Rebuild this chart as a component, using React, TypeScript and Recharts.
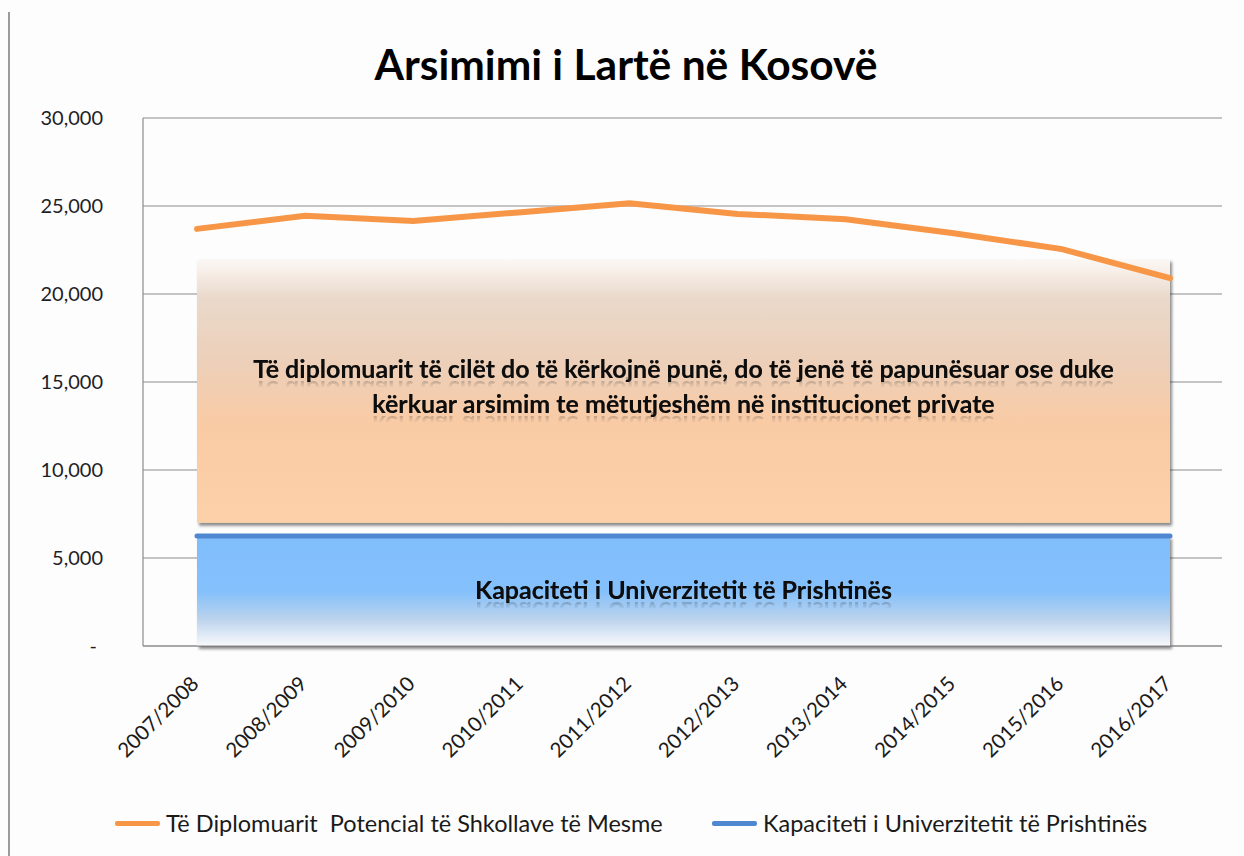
import React from 'react'
import { ComposedChart, Line, XAxis, YAxis, CartesianGrid, ReferenceArea } from 'recharts'

const years = [
  '2007/2008', '2008/2009', '2009/2010', '2010/2011', '2011/2012',
  '2012/2013', '2013/2014', '2014/2015', '2015/2016', '2016/2017',
]
// graduates from secondary schools (orange) and capacity of Univ. of Prishtina (blue)
const diplomuarit = [23700, 24450, 24150, 24650, 25150, 24550, 24250, 23450, 22550, 20900]
const kapaciteti = [6250, 6250, 6250, 6250, 6250, 6250, 6250, 6250, 6250, 6250]
const yTicks = [0, 5000, 10000, 15000, 20000, 25000, 30000]
// band of graduates left without a place (orange box)
const brezi = [7000, 22000]

const titulli = 'Arsimimi i Lartë në Kosovë'
const tekstiBrezit = [
  'Të diplomuarit të cilët do të kërkojnë punë, do të jenë të papunësuar ose duke',
  'kërkuar arsimim te mëtutjeshëm në institucionet private',
]
const tekstiKapacitetit = ['Kapaciteti i Univerzitetit të Prishtinës']
const emrat = ['Të Diplomuarit  Potencial të Shkollave të Mesme', 'Kapaciteti i Univerzitetit të Prishtinës']
const ngjyrat = ['#f79646', '#5087d1']

const data = years.map((year, i) => ({
  year,
  diplomuarit: diplomuarit[i],
  kapaciteti: kapaciteti[i],
}))

const FONT = 'Lato, "Open Sans", sans-serif'

const fmt = (v: number) => (v === 0 ? '-' : v.toLocaleString('en-US'))

const YTick = (props: any) => {
  const { x, y, payload } = props
  return (
    <text x={x} y={y} dx={payload.value === 0 ? -6 : 0} dy={7} textAnchor="end"
      fontFamily={FONT} fontSize={20} fill="#1e1e28">
      {fmt(payload.value)}
    </text>
  )
}

const YearTick = (props: any) => {
  const { x, y, payload } = props
  const ax = x + 3
  const ay = y + 37
  return (
    <text x={ax} y={ay} transform={`rotate(-45 ${ax} ${ay})`} textAnchor="end"
      fontFamily={FONT} fontSize={20.5} fill="#1a1a1a">
      {payload.value}
    </text>
  )
}

// bold caption with a faint mirrored copy under it
const Caption = ({ viewBox, lines, top, gap, id }: any) => {
  const { x, y, width, height } = viewBox
  const cx = x + width / 2
  return (
    <g>
      {lines.map((t: string, i: number) => {
        const by = y + height * top + i * gap
        const tid = `${id}-${i}`
        return (
          <g key={i}>
            <g fill="#111">
              <text id={tid} x={cx} y={by} textAnchor="middle" fontFamily={FONT} fontWeight={700}
                fontSize={25} filter="url(#soft)">
                {t}
              </text>
            </g>
            <use href={`#${tid}`} transform={`translate(0 ${2 * by + 3}) scale(1 -1)`} fill="url(#reflex)" />
          </g>
        )
      })}
    </g>
  )
}

const boxShape = (fill: string) => (p: any) => (
  <rect x={p.x} y={p.y} width={p.width} height={p.height} fill={fill} filter="url(#boxShadow)" />
)

export default function App() {
  return (
    <div style={{ position: 'absolute', left: 0, top: 0, width: 1244, height: 856, background: '#fdfdfd', overflow: 'hidden' }}>
      <div style={{ position: 'absolute', left: 8, top: 12, width: 2, height: 844, background: '#9b9b9b' }} />
      <div style={{
        position: 'absolute', left: 0, width: 1244, top: 39, textAlign: 'center',
        fontFamily: FONT, fontWeight: 700, fontSize: 42.5, color: '#000', lineHeight: '50px',
        paddingLeft: 4,
      }}>
        {titulli}
      </div>
      <ComposedChart width={1244} height={856} data={data}
        margin={{ top: 118, right: 22, left: 0, bottom: 0 }}>
        <defs>
          <linearGradient id="orangeFill" x1="0" y1="0" x2="0" y2="1">
            <stop offset="0" stopColor="#fcf8f5" />
            <stop offset="0.15" stopColor="#ead9cb" />
            <stop offset="0.4" stopColor="#edcfb8" />
            <stop offset="0.62" stopColor="#f9cba5" />
            <stop offset="1" stopColor="#fcd0a8" />
          </linearGradient>
          <linearGradient id="blueFill" x1="0" y1="0" x2="0" y2="1">
            <stop offset="0" stopColor="#80bdfb" />
            <stop offset="0.5" stopColor="#83c0fc" />
            <stop offset="0.75" stopColor="#bad2ec" />
            <stop offset="1" stopColor="#f8f9fc" />
          </linearGradient>
          <linearGradient id="reflex" x1="0" y1="0" x2="0" y2="1">
            <stop offset="0" stopColor="#333" stopOpacity="0" />
            <stop offset="0.6" stopColor="#333" stopOpacity="0" />
            <stop offset="0.88" stopColor="#333" stopOpacity="0.22" />
            <stop offset="1" stopColor="#333" stopOpacity="0.22" />
          </linearGradient>
          <filter id="boxShadow" x="-5%" y="-5%" width="110%" height="120%">
            <feDropShadow dx="2" dy="3" stdDeviation="1.5" floodColor="#000" floodOpacity="0.45" />
          </filter>
          <filter id="soft" x="-5%" y="-20%" width="110%" height="140%">
            <feDropShadow dx="0" dy="0" stdDeviation="0.6" floodColor="#000" floodOpacity="0.5" />
          </filter>
        </defs>
        <CartesianGrid vertical={false} stroke="#8c8c8c" strokeWidth={1.2} />
        <XAxis dataKey="year" interval={0} tickLine={false} tickSize={0}
          padding={{ left: 54, right: 52 }} height={210}
          axisLine={{ stroke: '#8c8c8c', strokeWidth: 1.2 }} tick={<YearTick />} />
        <YAxis width={143} domain={[0, 30000]} ticks={yTicks} tickLine={false} tickSize={0}
          tickMargin={40} axisLine={{ stroke: '#8c8c8c', strokeWidth: 1.2 }} tick={<YTick />} />
        <ReferenceArea x1={years[0]} x2={years[years.length - 1]} y1={brezi[0]} y2={brezi[1]}
          shape={boxShape('url(#orangeFill)')} ifOverflow="visible"
          label={(p: any) => <Caption id="brezi" viewBox={p.viewBox} lines={tekstiBrezit} top={0.45} gap={35} />} />
        <ReferenceArea x1={years[0]} x2={years[years.length - 1]} y1={0} y2={kapaciteti[0]}
          shape={boxShape('url(#blueFill)')} ifOverflow="visible"
          label={(p: any) => <Caption id="kap" viewBox={p.viewBox} lines={tekstiKapacitetit} top={0.57} gap={0} />} />
        <Line dataKey="kapaciteti" name={emrat[1]} stroke={ngjyrat[1]} strokeWidth={5}
          strokeLinecap="round" dot={false} activeDot={false} isAnimationActive={false} />
        <Line dataKey="diplomuarit" name={emrat[0]} stroke={ngjyrat[0]} strokeWidth={6}
          strokeLinecap="round" dot={false} activeDot={false} isAnimationActive={false} />
      </ComposedChart>
      {emrat.map((n, i) => (
        <div key={n} style={{
          position: 'absolute', top: 808, left: i === 0 ? 115 : 712, display: 'flex', alignItems: 'center',
          fontFamily: FONT, fontSize: 23.5, color: '#1a1a1a', lineHeight: '30px',
        }}>
          <div style={{ width: 45, height: 5, borderRadius: 2, background: ngjyrat[i], marginRight: 6 }} />
          <span style={{ whiteSpace: 'pre' }}>{n}</span>
        </div>
      ))}
    </div>
  )
}
